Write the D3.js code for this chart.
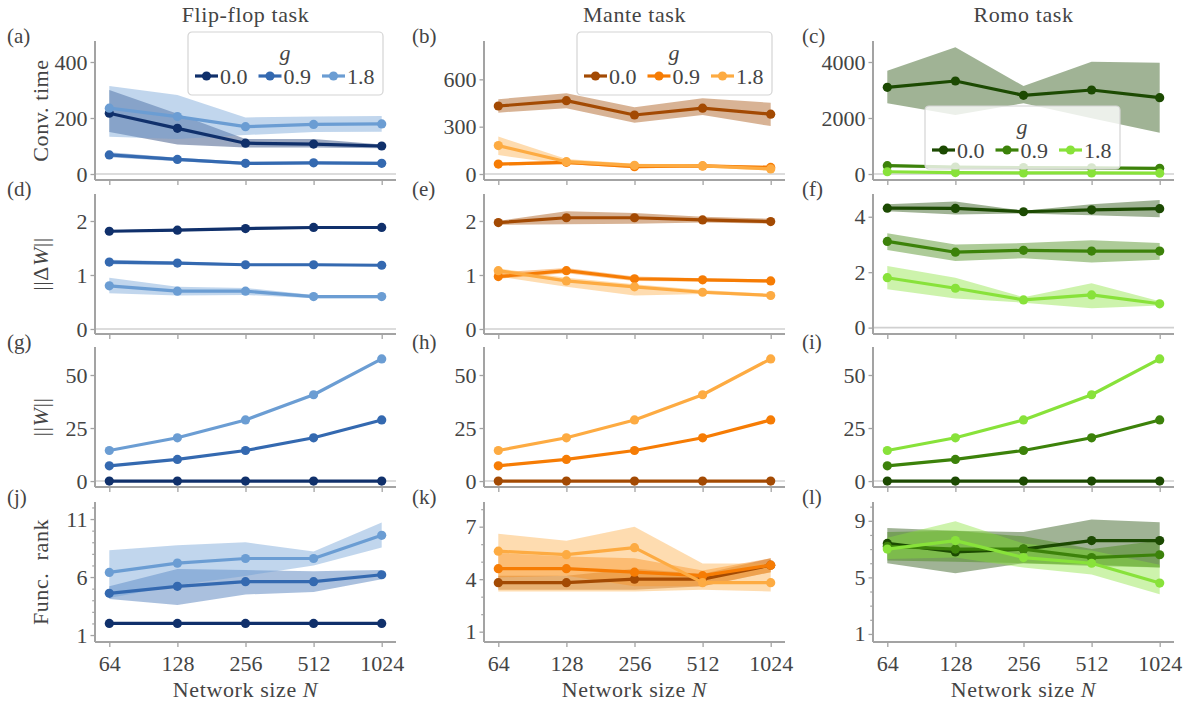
<!DOCTYPE html>
<html>
<head>
<meta charset="utf-8">
<script src="https://cdn.jsdelivr.net/npm/d3@7"></script>
<style>
  body { margin: 0; background: #fff; }
  svg text { font-family: "Liberation Serif", "DejaVu Serif", serif !important; fill: #444; }
</style>
</head>
<body>
<script>
// network sizes and gain values
const sizes = [64, 128, 256, 512, 1024];
const gains = ["0.0", "0.9", "1.8"];
const taskTitles = ["Flip-flop task", "Mante task", "Romo task"];
const panelLetters = ["a","b","c","d","e","f","g","h","i","j","k","l"];

// colours per task (g = 0.0, 0.9, 1.8)
const blues = ["#10306b", "#3469b0", "#6b9dd3"];
const oranges = ["#a34a03", "#f67c04", "#fdab42"];
const greens = ["#1c4a02", "#3c820a", "#88e23a"];

// ---- flip-flop ----
const convFFMean = [[217,163,110,107,100],[68,52,38,40,38],[235,205,169,177,179]];
const convFFLo   = [[150,105,95,95,92],[60,46,33,35,33],[133,125,139,150,151]];
const convFFHi   = [[300,215,125,125,105],[78,58,44,45,44],[314,282,202,205,207]];
const dwFFMean = [[1.81,1.83,1.86,1.88,1.88],[1.24,1.22,1.19,1.19,1.18],[0.80,0.70,0.70,0.60,0.60]];
const dwFFLo   = [[1.79,1.81,1.84,1.86,1.86],[1.20,1.19,1.17,1.17,1.16],[0.66,0.62,0.63,0.57,0.57]];
const dwFFHi   = [[1.83,1.85,1.88,1.90,1.90],[1.28,1.25,1.21,1.21,1.20],[0.95,0.78,0.76,0.63,0.62]];
const wFFMean = [[0,0,0,0,0],[7.2,10.2,14.4,20.4,28.8],[14.4,20.4,28.8,40.7,57.6]];
const wFFLo   = [[0,0,0,0,0],[7.1,10.1,14.3,20.3,28.7],[14.3,20.3,28.7,40.6,57.5]];
const wFFHi   = [[0,0,0,0,0],[7.3,10.3,14.5,20.5,28.9],[14.5,20.5,28.9,40.8,57.7]];
const rankFFMean = [[2,2,2,2,2],[4.6,5.2,5.6,5.6,6.2],[6.4,7.2,7.6,7.6,9.6]];
const rankFFLo   = [[1.95,1.95,1.95,1.95,1.95],[4.1,3.6,4.5,4.7,5.8],[4.2,5.3,6.1,7.0,8.55]];
const rankFFHi   = [[2.05,2.05,2.05,2.05,2.05],[5.2,6.7,6.6,6.5,6.6],[8.3,8.75,9.0,8.2,10.7]];

// ---- mante ----
const convMMean = [[431,465,374,417,379],[63,74,46,51,42],[180,78,55,51,32]];
const convMLo   = [[389,417,325,374,304],[53,64,36,41,32],[120,60,45,41,22]];
const convMHi   = [[474,512,423,480,452],[73,84,56,61,52],[237,95,65,61,42]];
const dwMMean = [[1.97,2.06,2.06,2.02,1.99],[0.97,1.08,0.93,0.91,0.89],[1.08,0.89,0.78,0.68,0.62]];
const dwMLo   = [[1.93,1.94,1.95,1.97,1.95],[0.93,1.03,0.89,0.88,0.86],[0.97,0.78,0.62,0.65,0.60]];
const dwMHi   = [[2.00,2.18,2.15,2.08,2.04],[1.05,1.13,0.97,0.94,0.92],[1.12,0.95,0.83,0.72,0.65]];
const wMMean = [[0,0,0,0,0],[7.2,10.2,14.4,20.4,28.8],[14.4,20.4,28.8,40.7,57.6]];
const wMLo   = [[0,0,0,0,0],[7.1,10.1,14.3,20.3,28.7],[14.3,20.3,28.7,40.6,57.5]];
const wMHi   = [[0,0,0,0,0],[7.3,10.3,14.5,20.5,28.9],[14.5,20.5,28.9,40.8,57.7]];
const rankMMean = [[3.8,3.8,4.0,4.0,4.8],[4.6,4.6,4.4,4.2,4.8],[5.6,5.4,5.8,3.8,3.8]];
const rankMLo   = [[3.4,3.4,3.4,3.6,4.4],[4.1,4.2,3.6,3.6,4.4],[3.3,3.3,3.3,3.4,3.3]];
const rankMHi   = [[4.2,4.2,4.6,4.3,5.2],[5.5,5.3,5.2,4.5,5.2],[6.6,6.2,7.0,4.9,4.9]];

// ---- romo ----
const convRMean = [[3096,3321,2810,3000,2725],[298,250,230,220,202],[80,50,40,40,30]];
const convRLo   = [[2524,2107,2524,1988,1476],[250,210,190,180,165],[60,35,25,25,18]];
const convRHi   = [[3690,4524,3143,4012,3976],[345,290,270,260,240],[100,65,55,55,42]];
const dwRMean = [[4.31,4.30,4.18,4.25,4.29],[3.11,2.72,2.79,2.76,2.76],[1.80,1.42,1.00,1.18,0.86]];
const dwRLo   = [[4.20,4.08,4.12,4.05,3.98],[2.80,2.40,2.50,2.35,2.45],[1.38,1.05,0.90,0.70,0.80]];
const dwRHi   = [[4.45,4.55,4.22,4.45,4.60],[3.40,3.00,3.05,3.15,3.05],[2.22,1.80,1.10,1.60,0.95]];
const wRMean = [[0,0,0,0,0],[7.2,10.2,14.4,20.4,28.8],[14.4,20.4,28.8,40.7,57.6]];
const wRLo   = [[0,0,0,0,0],[7.1,10.1,14.3,20.3,28.7],[14.3,20.3,28.7,40.6,57.5]];
const wRHi   = [[0,0,0,0,0],[7.3,10.3,14.5,20.5,28.9],[14.5,20.5,28.9,40.8,57.7]];
const rankRMean = [[7.4,6.8,7.0,7.6,7.6],[7.2,7.0,7.0,6.4,6.6],[7.0,7.6,6.4,6.0,4.6]];
const rankRLo   = [[6.0,5.3,6.0,5.9,5.7],[6.2,6.1,6.0,5.8,5.7],[6.3,6.4,5.7,5.2,3.8]];
const rankRHi   = [[8.5,8.3,8.2,9.1,8.9],[8.2,8.3,7.9,7.0,7.6],[7.8,8.97,7.4,6.9,5.9]];

// y tick values
const convTicks = [[0,200,400],[0,300,600],[0,2000,4000]];
const dwTicks = [[0,1,2],[0,1,2],[0,2,4]];
const wTicks = [[0,25,50],[0,25,50],[0,25,50]];
const rankTicks = [[1,6,11],[1,4,7],[1,5,9]];

const width = 1194, height = 706;
const cols = [{left: 95, right: 396}, {left: 484, right: 785}, {left: 873, right: 1174}];
const rows = [{top: 41, bottom: 180}, {top: 194, bottom: 334}, {top: 347, bottom: 487}, {top: 502, bottom: 642}];
const yDomains = [
  [[-21.4, 475], [-38, 843], [-214, 4750]],
  [[-0.093, 2.5], [-0.093, 2.5], [-0.23, 4.82]],
  [[-2.8, 63.2], [-2.8, 63.2], [-2.8, 63.2]],
  [[0.4, 12.47], [0.41, 8.41], [0.43, 10.33]]
];
const palettes = [blues, oranges, greens];

const panels = [
  [convFFMean, convFFLo, convFFHi, convTicks[0]], [convMMean, convMLo, convMHi, convTicks[1]], [convRMean, convRLo, convRHi, convTicks[2]],
  [dwFFMean, dwFFLo, dwFFHi, dwTicks[0]], [dwMMean, dwMLo, dwMHi, dwTicks[1]], [dwRMean, dwRLo, dwRHi, dwTicks[2]],
  [wFFMean, wFFLo, wFFHi, wTicks[0]], [wMMean, wMLo, wMHi, wTicks[1]], [wRMean, wRLo, wRHi, wTicks[2]],
  [rankFFMean, rankFFLo, rankFFHi, rankTicks[0]], [rankMMean, rankMLo, rankMHi, rankTicks[1]], [rankRMean, rankRLo, rankRHi, rankTicks[2]]
];

const svg = d3.select("body").append("svg")
  .attr("width", width)
  .attr("height", height)
  .attr("font-family", "'Liberation Serif', serif");

const spineColor = "#a3a3a3";
const fontSize = 22;

panels.forEach((p, k) => {
  const r = Math.floor(k / 3), c = k % 3;
  const [mean, lo, hi, ticks] = p;
  const colors = palettes[c];
  const col = cols[c], row = rows[r];

  const x = d3.scaleLog().base(2)
    .domain([Math.pow(2, 5.79), Math.pow(2, 10.21)])
    .range([col.left, col.right]);
  const y = d3.scaleLinear().domain(yDomains[r][c]).range([row.bottom, row.top]);

  const g = svg.append("g");

  // zero reference line
  if (r < 3) {
    g.append("line")
      .attr("x1", col.left).attr("x2", col.right)
      .attr("y1", y(0)).attr("y2", y(0))
      .attr("stroke", "#d0d0d0").attr("stroke-width", 1.6);
  }

  // bands first (lower zorder), then lines
  const area = d3.area()
    .x((d, i) => x(sizes[i]))
    .y0((d, i) => y(d[0]))
    .y1((d, i) => y(d[1]));
  gains.forEach((gv, s) => {
    const band = lo[s].map((v, i) => [v, hi[s][i]]);
    g.append("path")
      .attr("d", area(band))
      .attr("fill", colors[s])
      .attr("fill-opacity", 0.42);
  });

  const line = d3.line()
    .x((d, i) => x(sizes[i]))
    .y(d => y(d));
  gains.forEach((gv, s) => {
    g.append("path")
      .attr("d", line(mean[s]))
      .attr("fill", "none")
      .attr("stroke", colors[s])
      .attr("stroke-width", 3.2)
      .attr("stroke-linejoin", "round");
    g.selectAll(null)
      .data(mean[s])
      .enter()
      .append("circle")
      .attr("cx", (d, i) => x(sizes[i]))
      .attr("cy", d => y(d))
      .attr("r", 4.6)
      .attr("fill", colors[s]);
  });

  // y axis
  const yAxis = d3.axisLeft(y).tickValues(ticks).tickSize(4.5).tickPadding(3).tickFormat(d3.format("d"));
  const ya = g.append("g").attr("transform", `translate(${col.left},0)`).call(yAxis);
  if (r === 3) {
    const minor = d3.range(Math.ceil(yDomains[r][c][0]), Math.floor(yDomains[r][c][1]) + 1).filter(v => ticks.indexOf(v) < 0);
    const ym = d3.axisLeft(y).tickValues(minor).tickSize(2.8).tickFormat("");
    const yma = g.append("g").attr("transform", `translate(${col.left},0)`).call(ym);
    yma.select(".domain").remove();
    yma.selectAll("line").attr("stroke", spineColor).attr("stroke-width", 1.2);
  }

  // x axis
  const xAxis = d3.axisBottom(x).tickValues(sizes).tickSize(5).tickPadding(8)
    .tickFormat(r === 3 ? d3.format("d") : "");
  const xa = g.append("g").attr("transform", `translate(0,${row.bottom})`).call(xAxis);

  [ya, xa].forEach(a => {
    a.attr("font-family", "'Liberation Serif', serif").attr("font-size", fontSize);
    a.select(".domain").attr("stroke", spineColor).attr("stroke-width", 2)
      .attr("d", a === ya ? `M0,${row.top}V${row.bottom}` : `M${col.left},0H${col.right}`);
    a.selectAll(".tick line").attr("stroke", spineColor).attr("stroke-width", 1.3);
    a.selectAll("text").attr("fill", "#444");
  });

  // panel letter
  svg.append("text")
    .attr("x", [7, 412, 802][c])
    .attr("y", row.top + 2)
    .style("font-size", "21px")
    .text(`(${panelLetters[k]})`);
});

// column titles and x labels
taskTitles.forEach((t, c) => {
  svg.append("text")
    .attr("x", (cols[c].left + cols[c].right) / 2)
    .attr("y", 22)
    .attr("text-anchor", "middle")
    .style("font-size", "22px")
    .style("letter-spacing", "0.6px")
    .text(t);
  svg.append("text")
    .attr("x", (cols[c].left + cols[c].right) / 2)
    .attr("y", 697)
    .attr("text-anchor", "middle")
    .style("font-size", "22px")
    .style("letter-spacing", "0.6px")
    .html('Network size <tspan font-style="italic">N</tspan>');
});

// row labels
const rowLabels = [
  'Conv. time',
  '||Δ<tspan font-style="italic">W</tspan>||',
  '||<tspan font-style="italic">W</tspan>||',
  'Func.&#160;&#160;rank'
];
rowLabels.forEach((lab, r) => {
  svg.append("text")
    .attr("transform", `translate(48,${(rows[r].top + rows[r].bottom) / 2}) rotate(-90)`)
    .attr("text-anchor", "middle")
    .style("font-size", "22px")
    .style("letter-spacing", "0.6px")
    .html(lab);
});

// legends
const legendPos = [{x: 188, y: 32}, {x: 577, y: 32}, {x: 925, y: 106}];
legendPos.forEach((lp, c) => {
  const lg = svg.append("g").attr("transform", `translate(${lp.x},${lp.y})`);
  lg.append("rect")
    .attr("width", 195).attr("height", 63).attr("rx", 4)
    .attr("fill", "#fff").attr("fill-opacity", 0.8)
    .attr("stroke", "#d4d4d4").attr("stroke-width", 1.2);
  lg.append("text")
    .attr("x", 97).attr("y", 28)
    .attr("text-anchor", "middle")
    .style("font-size", "22px").style("font-style", "italic")
    .text("g");
  gains.forEach((gv, s) => {
    const ex = 7 + s * 63.5;
    lg.append("line")
      .attr("x1", ex).attr("x2", ex + 23)
      .attr("y1", 44).attr("y2", 44)
      .attr("stroke", palettes[c][s]).attr("stroke-width", 3.2);
    lg.append("circle")
      .attr("cx", ex + 11.5).attr("cy", 44).attr("r", 4.6)
      .attr("fill", palettes[c][s]);
    lg.append("text")
      .attr("x", ex + 25).attr("y", 51.5)
      .style("font-size", "22px")
      .text(gv);
  });
});
</script>
</body>
</html>
